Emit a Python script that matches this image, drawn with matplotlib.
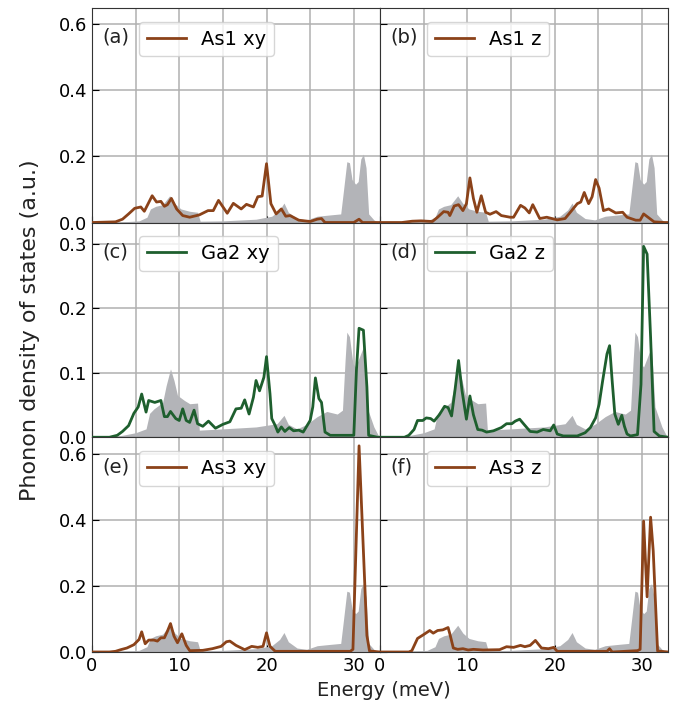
import numpy as np
import matplotlib
matplotlib.use("Agg")
import matplotlib.pyplot as plt
from matplotlib.ticker import MultipleLocator

# total (projected) DOS used as grey background
e_as_tot = [0, 1.9, 3.5, 5.4, 6.3, 6.7, 7.3, 8.1, 8.9, 9.5, 10.2, 11.2, 12.1, 12.4, 15.0, 18.8,
            20.6, 21.5, 22.0, 22.5, 23.5, 24.6, 25.8, 27.3, 28.5, 28.8, 29.2, 29.5, 29.8, 30.2,
            30.5, 30.8, 31.1, 31.4, 31.7, 32.3, 32.8, 33.0]
d_as_tot = [0, 0, 0.002, 0.005, 0.016, 0.041, 0.049, 0.054, 0.081, 0.057, 0.041, 0.034, 0.031, 0.004,
            0.005, 0.010, 0.019, 0.038, 0.059, 0.031, 0.012, 0.008, 0.019, 0.023, 0.026, 0.093,
            0.184, 0.181, 0.130, 0.116, 0.124, 0.192, 0.207, 0.166, 0.026, 0.008, 0, 0]

e_ga_tot = [0, 2.7, 5.0, 6.2, 6.6, 7.1, 8.1, 8.5, 9.0, 9.4, 9.8, 10.6, 11.2, 12.1, 12.3, 15.0, 18.8,
            21.2, 22.0, 22.5, 23.5, 24.6, 25.8, 26.9, 28.1, 28.7, 29.0, 29.2, 29.5, 29.9, 30.2,
            30.8, 31.1, 31.5, 32.3, 32.8, 33.0]
d_ga_tot = [0, 0.001, 0.007, 0.013, 0.037, 0.044, 0.054, 0.080, 0.106, 0.088, 0.065, 0.057, 0.052,
            0.053, 0.011, 0.013, 0.016, 0.021, 0.034, 0.020, 0.013, 0.020, 0.032, 0.040, 0.036,
            0.042, 0.119, 0.163, 0.156, 0.114, 0.109, 0.130, 0.140, 0.047, 0.016, 0.003, 0]

# As1 xy
e_as1_xy = [0, 2.7, 3.5, 4.2, 4.9, 5.6, 6.0, 6.9, 7.4, 7.9, 8.3, 8.65, 9.1, 9.7, 10.4, 11.2, 12.3,
            13.3, 13.9, 14.5, 15.5, 16.2, 17.1, 17.7, 18.5, 19.0, 19.5, 20.0, 20.5, 21.1, 21.7,
            22.2, 22.7, 23.7, 25.0, 25.8, 26.3, 26.7, 30.0, 30.6, 31.0, 33.0]
d_as1_xy = [0, 0.002, 0.010, 0.026, 0.043, 0.047, 0.034, 0.081, 0.062, 0.064, 0.049, 0.054, 0.073,
            0.041, 0.021, 0.016, 0.023, 0.036, 0.036, 0.067, 0.028, 0.058, 0.041, 0.055, 0.047,
            0.078, 0.080, 0.178, 0.057, 0.026, 0.041, 0.019, 0.021, 0.007, 0.003, 0.010, 0.012,
            0, 0, 0.010, 0, 0]

# As1 z
e_as1_z = [0, 2.5, 3.7, 4.7, 6.0, 6.6, 7.3, 7.8, 8.0, 8.5, 9.0, 9.5, 9.9, 10.3, 10.7, 11.1, 11.6,
           12.1, 12.6, 13.3, 13.9, 14.9, 15.3, 16.1, 16.6, 17.1, 17.5, 18.3, 19.1, 20.3, 21.2,
           21.8, 22.6, 23.0, 23.4, 23.9, 24.3, 24.7, 25.1, 25.6, 26.2, 27.0, 27.8, 28.3, 29.3,
           29.8, 30.2, 30.9, 31.4, 32.6, 33.0]
d_as1_z = [0, 0, 0.004, 0.005, 0.003, 0.016, 0.033, 0.031, 0.021, 0.050, 0.054, 0.036, 0.057,
           0.135, 0.073, 0.031, 0.081, 0.031, 0.025, 0.033, 0.021, 0.016, 0.016, 0.052, 0.044,
           0.029, 0.054, 0.012, 0.016, 0.008, 0.012, 0.031, 0.057, 0.062, 0.091, 0.057, 0.078,
           0.130, 0.104, 0.036, 0.041, 0.029, 0.031, 0.016, 0.007, 0.007, 0.026, 0.012, 0.002, 0, 0]

# Ga2 xy
e_ga2_xy = [0, 2.0, 2.9, 3.5, 4.2, 4.8, 5.3, 5.7, 6.2, 6.5, 7.2, 7.9, 8.3, 8.65, 9.0, 9.6, 10.0,
            10.4, 10.8, 11.2, 11.7, 12.1, 12.7, 13.35, 14.15, 15.0, 15.8, 16.5, 17.1, 17.5, 18.0,
            18.5, 18.8, 19.2, 19.7, 20.0, 20.4, 20.6, 21.0, 21.3, 21.7, 22.1, 22.6, 23.1, 23.7,
            24.2, 25.0, 25.3, 25.6, 26.0, 26.3, 26.7, 27.3, 30.0, 30.3, 30.6, 31.1, 31.5, 31.7,
            32.7, 33.0]
d_ga2_xy = [0, 0, 0.003, 0.009, 0.018, 0.037, 0.047, 0.067, 0.039, 0.057, 0.054, 0.057, 0.032,
            0.032, 0.040, 0.029, 0.026, 0.044, 0.026, 0.023, 0.042, 0.021, 0.017, 0.025, 0.014,
            0.020, 0.024, 0.044, 0.045, 0.058, 0.036, 0.062, 0.088, 0.072, 0.093, 0.125, 0.067,
            0.029, 0.018, 0.008, 0.016, 0.009, 0.015, 0.010, 0.011, 0.008, 0.026, 0.047, 0.092,
            0.060, 0.054, 0.008, 0.003, 0.003, 0.104, 0.169, 0.166, 0.078, 0.003, 0, 0]

# Ga2 z
e_ga2_z = [0, 2.8, 3.3, 3.9, 4.3, 4.9, 5.3, 5.8, 6.2, 6.8, 7.4, 7.8, 8.2, 8.6, 9.0, 9.4, 9.9,
           10.3, 10.7, 11.2, 11.7, 12.2, 13.0, 13.9, 14.5, 15.1, 15.5, 16.0, 16.5, 17.2, 18.0,
           18.7, 19.5, 19.9, 20.3, 21.0, 22.6, 23.5, 24.1, 24.7, 25.1, 25.5, 26.0, 26.3, 26.6,
           26.9, 27.3, 27.7, 28.0, 28.3, 28.7, 29.5, 29.9, 30.2, 30.6, 31.0, 31.4, 32.0, 33.0]
d_ga2_z = [0, 0, 0.003, 0.012, 0.026, 0.026, 0.030, 0.029, 0.025, 0.035, 0.048, 0.046, 0.033,
           0.074, 0.119, 0.072, 0.028, 0.064, 0.035, 0.012, 0.011, 0.008, 0.010, 0.015, 0.021,
           0.021, 0.025, 0.028, 0.020, 0.009, 0.008, 0.012, 0.010, 0.019, 0.005, 0.002, 0.002,
           0.007, 0.015, 0.030, 0.051, 0.087, 0.129, 0.142, 0.087, 0.036, 0.020, 0.034, 0.017,
           0.005, 0.002, 0.004, 0.082, 0.296, 0.284, 0.155, 0.009, 0.002, 0]

# As3 xy
e_as3_xy = [0, 2.0, 2.7, 3.3, 4.0, 4.8, 5.4, 5.7, 6.1, 6.5, 7.1, 7.5, 7.9, 8.3, 8.65, 9.0, 9.4,
            9.8, 10.3, 10.8, 11.2, 12.7, 13.8, 14.8, 15.4, 15.8, 16.5, 17.5, 18.3, 19.0, 19.6,
            20.0, 20.4, 21.0, 29.6, 29.9, 30.6, 31.5, 31.8, 33.0]
d_as3_xy = [0, 0, 0.002, 0.007, 0.012, 0.022, 0.038, 0.061, 0.025, 0.036, 0.036, 0.033, 0.043,
            0.043, 0.063, 0.086, 0.048, 0.028, 0.055, 0.020, 0.004, 0.005, 0.010, 0.017, 0.031,
            0.033, 0.020, 0.007, 0.017, 0.014, 0.017, 0.058, 0.017, 0.002, 0.002, 0.008, 0.624,
            0.050, 0.003, 0]

# As3 z
e_as3_z = [0, 3.3, 3.65, 4.3, 4.9, 5.7, 6.1, 6.6, 7.2, 7.8, 8.0, 8.4, 8.9, 9.5, 10.1, 10.7, 11.8,
           13.7, 14.5, 15.3, 16.1, 16.6, 17.2, 17.8, 18.5, 19.3, 19.9, 20.3, 26.0, 26.3, 26.6,
           29.5, 29.8, 30.2, 30.6, 31.0, 31.3, 31.8, 33.0]
d_as3_z = [0, 0, 0.004, 0.041, 0.051, 0.065, 0.057, 0.065, 0.067, 0.074, 0.055, 0.012, 0.008,
           0.010, 0.006, 0.008, 0.006, 0.007, 0.016, 0.014, 0.020, 0.016, 0.020, 0.035, 0.012,
           0.010, 0.014, 0.002, 0.002, 0.010, 0, 0.004, 0.008, 0.396, 0.167, 0.408, 0.306,
           0.003, 0]

brown = '#8b4219'
green = '#1e5f2e'
grey = '#b3b4b8'

panels = [
    ('(a)', 'As1 xy', e_as1_xy, d_as1_xy, brown, e_as_tot, d_as_tot),
    ('(b)', 'As1 z', e_as1_z, d_as1_z, brown, e_as_tot, d_as_tot),
    ('(c)', 'Ga2 xy', e_ga2_xy, d_ga2_xy, green, e_ga_tot, d_ga_tot),
    ('(d)', 'Ga2 z', e_ga2_z, d_ga2_z, green, e_ga_tot, d_ga_tot),
    ('(e)', 'As3 xy', e_as3_xy, d_as3_xy, brown, e_as_tot, d_as_tot),
    ('(f)', 'As3 z', e_as3_z, d_as3_z, brown, e_as_tot, d_as_tot),
]
ylims = [0.65, 0.333, 0.65]
ysteps = [0.2, 0.1, 0.2]

fig, axes = plt.subplots(3, 2, figsize=(6.81, 7.06), dpi=100, sharex=True)
fig.subplots_adjust(left=0.135, right=0.981, top=0.989, bottom=0.0765, hspace=0, wspace=0)

for i, ax in enumerate(axes.flat):
    lab, name, e, d, col, et, dt = panels[i]
    row, c = divmod(i, 2)
    ax.fill_between(et, 0, dt, color=grey, lw=0, zorder=2)
    ax.plot(e, d, color=col, lw=2, label=name, zorder=3)
    ax.set_xlim(0, 33)
    ax.set_ylim(0, ylims[row])
    ax.xaxis.set_major_locator(MultipleLocator(10))
    ax.xaxis.set_minor_locator(MultipleLocator(5))
    ax.yaxis.set_major_locator(MultipleLocator(ysteps[row]))
    ax.grid(True, which='both', color='#b0b0b0', lw=1.1)
    ax.set_axisbelow(True)
    ax.tick_params(direction='in', labelsize=13, length=5)
    ax.tick_params(which='minor', length=0)
    if c == 1:
        ax.tick_params(labelleft=False)
    for s in ax.spines.values():
        s.set_color('#333333')
    ax.text(0.035, 0.862, lab, transform=ax.transAxes, fontsize=14, ha='left', va='center',
            color='#222222')
    ax.legend(loc='upper left', bbox_to_anchor=(0.163, 0.935), borderaxespad=0, fontsize=14,
              handlelength=2.0)

fig.text(0.044, 0.533, 'Phonon density of states (a.u.)', rotation=90, fontsize=16,
         ha='center', va='center', color='#222222')
fig.text(0.563, 0.022, 'Energy (meV)', fontsize=14, ha='center', va='center', color='#222222')

plt.savefig('out.png')
